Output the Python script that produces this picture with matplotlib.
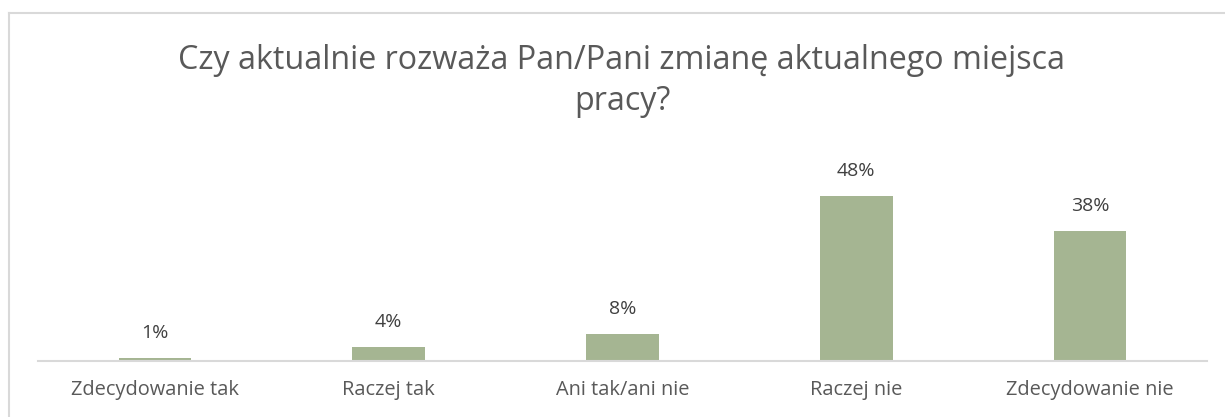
import matplotlib.pyplot as plt
import numpy as np

categories = ["Zdecydowanie tak", "Raczej tak", "Ani tak/ani nie", "Raczej nie", "Zdecydowanie nie"]
values = [1, 4, 8, 48, 38]
value_labels = ["1%", "4%", "8%", "48%", "38%"]
title_lines = ["Czy aktualnie rozważa Pan/Pani zmianę aktualnego miejsca", "pracy?"]

plt.rcParams['font.family'] = ['Open Sans', 'DejaVu Sans']

W, H = 1225, 417
fig = plt.figure(figsize=(W / 100, H / 100), dpi=100)

# outer chart border (only top and left visible in the crop)
fig.add_artist(plt.Line2D([9 / W, 9 / W], [0, 1 - 13 / H], color="#d9d9d9", lw=1.5))
fig.add_artist(plt.Line2D([9 / W, 1], [1 - 13 / H, 1 - 13 / H], color="#d9d9d9", lw=1.5))

left, right, bottom, top = 38, 1207, 361, 170
ax = fig.add_axes([left / W, 1 - bottom / H, (right - left) / W, (bottom - top) / H])

x = np.arange(len(categories))
bars = ax.bar(x, values, width=0.31, color="#a5b592")
ax.set_xlim(-0.5, len(categories) - 0.5)
ax.set_ylim(0, 55.7)

for xi, v, lab in zip(x, values, value_labels):
    ax.annotate(lab, (xi, v), xytext=(0, 18), textcoords="offset points",
                ha="center", va="center", fontsize=14, color="#404040")

ax.set_xticks(x)
ax.set_xticklabels(categories, fontsize=14.4, color="#595959")
ax.tick_params(axis="x", length=0, pad=14)
ax.set_yticks([])
for s in ["top", "right", "left"]:
    ax.spines[s].set_visible(False)
ax.spines["bottom"].set_color("#d9d9d9")
ax.spines["bottom"].set_linewidth(1.5)

# title, two lines placed at their baselines
for line, base in zip(title_lines, [69, 110]):
    fig.text(622 / W, 1 - base / H, line, ha="center", va="baseline",
             fontsize=23.2, color="#595959")

fig.savefig("out.png", dpi=100)
